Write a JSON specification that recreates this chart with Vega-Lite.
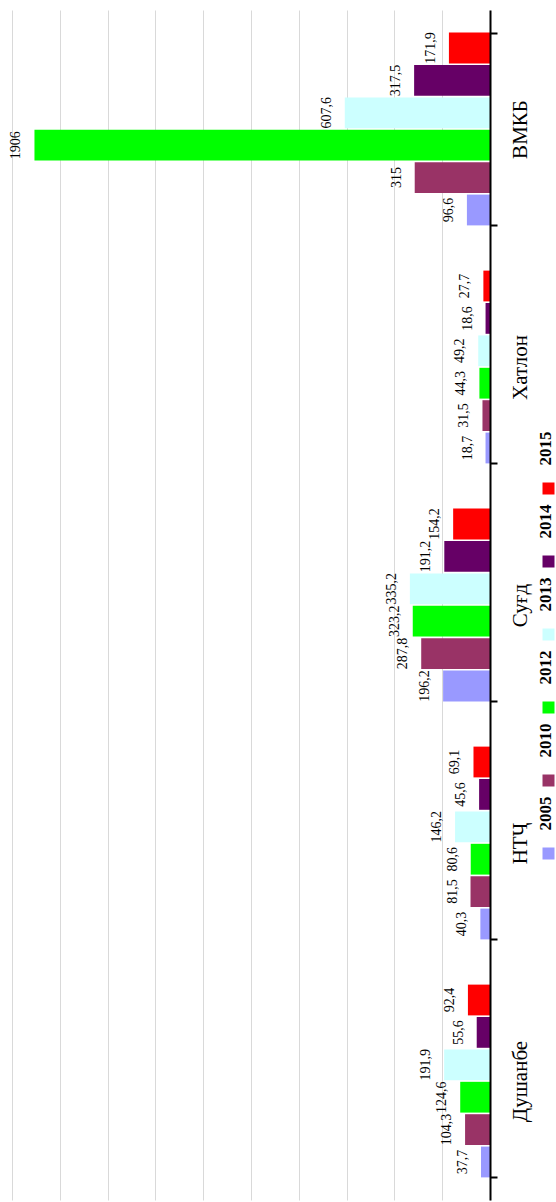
{
  "$schema": "https://vega.github.io/schema/vega-lite/v6.json",
  "width": 478,
  "height": 1190,
  "autosize": {"type": "none"},
  "padding": {"left": 12, "top": 10, "right": 66, "bottom": 2},
  "background": "white",
  "config": {
    "view": {"stroke": null},
    "font": "Liberation Serif",
    "locale": {"number": {"decimal": ",", "thousands": " ", "grouping": [3], "currency": ["", ""]}}
  },
  "data": {
    "values": [
      {"region": "ВМКБ", "year": "2005", "value": 96.6},
      {"region": "ВМКБ", "year": "2010", "value": 315},
      {"region": "ВМКБ", "year": "2012", "value": 1906},
      {"region": "ВМКБ", "year": "2013", "value": 607.6},
      {"region": "ВМКБ", "year": "2014", "value": 317.5},
      {"region": "ВМКБ", "year": "2015", "value": 171.9},
      {"region": "Хатлон", "year": "2005", "value": 18.7},
      {"region": "Хатлон", "year": "2010", "value": 31.5},
      {"region": "Хатлон", "year": "2012", "value": 44.3},
      {"region": "Хатлон", "year": "2013", "value": 49.2},
      {"region": "Хатлон", "year": "2014", "value": 18.6},
      {"region": "Хатлон", "year": "2015", "value": 27.7},
      {"region": "Суғд", "year": "2005", "value": 196.2},
      {"region": "Суғд", "year": "2010", "value": 287.8},
      {"region": "Суғд", "year": "2012", "value": 323.2},
      {"region": "Суғд", "year": "2013", "value": 335.2},
      {"region": "Суғд", "year": "2014", "value": 191.2},
      {"region": "Суғд", "year": "2015", "value": 154.2},
      {"region": "НТҶ", "year": "2005", "value": 40.3},
      {"region": "НТҶ", "year": "2010", "value": 81.5},
      {"region": "НТҶ", "year": "2012", "value": 80.6},
      {"region": "НТҶ", "year": "2013", "value": 146.2},
      {"region": "НТҶ", "year": "2014", "value": 45.6},
      {"region": "НТҶ", "year": "2015", "value": 69.1},
      {"region": "Душанбе", "year": "2005", "value": 37.7},
      {"region": "Душанбе", "year": "2010", "value": 104.3},
      {"region": "Душанбе", "year": "2012", "value": 124.6},
      {"region": "Душанбе", "year": "2013", "value": 191.9},
      {"region": "Душанбе", "year": "2014", "value": 55.6},
      {"region": "Душанбе", "year": "2015", "value": 92.4}
    ]
  },
  "encoding": {
    "y": {
      "field": "region",
      "type": "nominal",
      "sort": ["ВМКБ", "Хатлон", "Суғд", "НТҶ", "Душанбе"],
      "scale": {"paddingInner": 0.19, "paddingOuter": 0.095},
      "axis": {
        "orient": "right",
        "title": null,
        "labelAngle": 270,
        "labelAlign": "center",
        "labelBaseline": "top",
        "labelFont": "Liberation Serif",
        "labelFontSize": 21,
        "labelColor": "black",
        "labelPadding": 12,
        "tickSize": 7,
        "tickWidth": 2,
        "tickColor": "black",
        "domainColor": "black",
        "domainWidth": 2,
        "tickBand": "extent",
        "grid": false,
        "zindex": 1
      }
    },
    "yOffset": {
      "field": "year",
      "type": "nominal",
      "sort": "descending",
      "scale": {"paddingInner": 0.05, "paddingOuter": 0}
    },
    "x": {
      "field": "value",
      "type": "quantitative",
      "scale": {"domain": [0, 2000], "reverse": true, "nice": false},
      "axis": {
        "values": [0, 200, 400, 600, 800, 1000, 1200, 1400, 1600, 1800, 2000],
        "labels": false,
        "ticks": false,
        "domain": false,
        "grid": true,
        "gridColor": "#d9d9d9",
        "gridWidth": 1,
        "title": null
      }
    }
  },
  "layer": [
    {
      "mark": {"type": "bar"},
      "encoding": {
        "color": {
          "field": "year",
          "type": "nominal",
          "scale": {
            "domain": ["2015", "2014", "2013", "2012", "2010", "2005"],
            "range": ["#FF0000", "#660066", "#CCFFFF", "#00FF00", "#993366", "#9999FF"]
          },
          "legend": {
            "orient": "none",
            "legendX": 528,
            "legendY": 470,
            "direction": "vertical",
            "title": null,
            "symbolType": "square",
            "symbolSize": 144,
            "symbolStrokeWidth": 0,
            "symbolOpacity": 1,
            "labelFont": "Liberation Serif",
            "labelFontSize": 17,
            "labelFontWeight": "bold",
            "labelColor": "black",
            "rowPadding": 9,
            "encoding": {
              "labels": {
                "angle": {"value": 270},
                "align": {"value": "left"},
                "baseline": {"value": "middle"},
                "x": {"value": 6},
                "dx": {"value": 23},
                "fontSize": {"value": 17},
                "fontWeight": {"value": "bold"},
                "font": {"value": "Liberation Serif"}
              }
            }
          }
        }
      }
    },
    {
      "mark": {
        "type": "text",
        "angle": 270,
        "align": "center",
        "baseline": "alphabetic",
        "dy": -14,
        "fontSize": 14,
        "font": "Liberation Serif",
        "color": "black"
      },
      "encoding": {
        "text": {"field": "value", "type": "quantitative", "format": "~f"}
      }
    }
  ]
}
